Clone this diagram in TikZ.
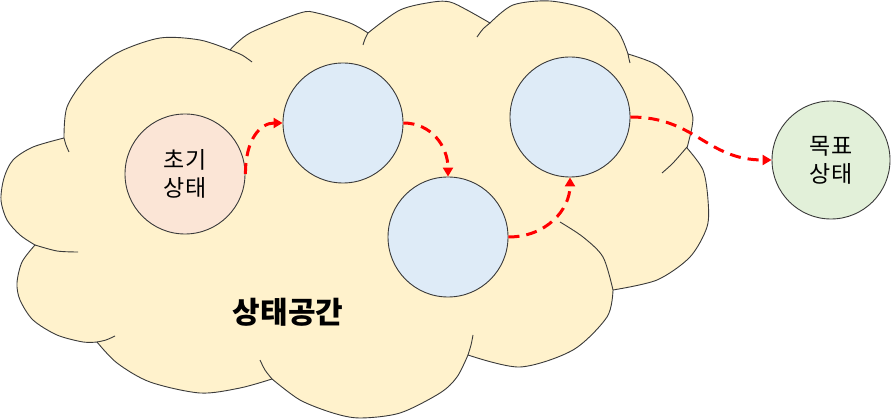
\documentclass[tikz,border=0pt]{standalone}
\usepackage{fontspec}
\usetikzlibrary{arrows.meta}
\newfontfamily\kr{Noto Sans CJK KR}
\definecolor{cloudfill}{HTML}{FFF2CC}
\definecolor{initfill}{HTML}{FBE5D6}
\definecolor{statefill}{HTML}{DEEBF7}
\definecolor{goalfill}{HTML}{E2F0D9}
\definecolor{edge}{HTML}{3A3A3A}

\begin{document}
\begin{tikzpicture}[x=1pt,y=-1pt,
    state/.style={circle,draw=edge,line width=0.9pt,minimum size=120pt,inner sep=0pt,
      align=center,font=\kr\fontsize{23}{28}\selectfont},
    move/.style={red,line width=3pt,dash pattern=on 11pt off 7pt,
      -{Triangle[length=9pt,width=10pt]}},
    stub/.style={draw=edge,line width=0.9pt}]
    \useasboundingbox (0,0) rectangle (893,419);

    % Cloud (state space)
    \filldraw[fill=cloudfill,draw=edge,line width=0.9pt]
      plot[smooth] coordinates {(64,138) (33,147) (13,160) (4,178) (1,200) (7,220) (20,235) (35,245)}
      -- plot[smooth] coordinates {(35,245) (22,262) (17,283) (20,300) (33,320) (57,335) (83,342) (97,342)}
      -- plot[smooth] coordinates {(97,342) (117,363) (150,382) (200,393) (240,388) (272,379)}
      -- plot[smooth] coordinates {(272,379) (300,400) (333,413) (360,418) (400,413) (440,393) (457,377) (468,355)}
      -- plot[smooth] coordinates {(468,355) (520,367) (573,350) (607,317) (613,290)}
      -- plot[smooth] coordinates {(613,290) (657,280) (690,257) (707,227) (708,200) (703,170) (687,148)}
      -- plot[smooth] coordinates {(687,148) (692,127) (692,113) (680,87) (657,65) (628,54)}
      -- plot[smooth] coordinates {(628,54) (617,30) (590,10) (550,1) (513,5) (490,23)}
      -- plot[smooth] coordinates {(490,23) (467,10) (450,2) (433,2) (400,10) (368,33)}
      -- plot[smooth] coordinates {(368,33) (350,23) (317,13) (300,13) (250,33) (230,50)}
      -- plot[smooth] coordinates {(230,50) (200,40) (160,38) (117,53) (87,77) (67,107) (64,138)}
      -- cycle;

    % Inner arcs of the cloud
    \draw[stub] plot[smooth] coordinates {(35,245) (57,251) (78,252)};
    \draw[stub] plot[smooth] coordinates {(97,342) (106,340) (115,336)};
    \draw[stub] plot[smooth] coordinates {(272,379) (265,370) (260,360)};
    \draw[stub] plot[smooth] coordinates {(468,355) (471,345) (473,335)};
    \draw[stub] plot[smooth] coordinates {(613,290) (603,257) (583,237) (560,222)};
    \draw[stub] plot[smooth] coordinates {(687,147) (673,163) (662,173)};
    \draw[stub] plot[smooth] coordinates {(628,54) (629,59) (630,63)};
    \draw[stub] plot[smooth] coordinates {(490,23) (483,29) (477,37)};
    \draw[stub] plot[smooth] coordinates {(368,33) (365,39) (363,45)};
    \draw[stub] plot[smooth] coordinates {(230,50) (242,55) (252,62)};
    \draw[stub] plot[smooth] coordinates {(64,138) (66,145) (69,152)};

    % States
    \node[state,fill=initfill] (init) at (185,174) {초기\\상태};
    \node[state,fill=statefill] (s1) at (343,123) {};
    \node[state,fill=statefill] (s2) at (448,237) {};
    \node[state,fill=statefill] (s3) at (570,117) {};
    \node[state,fill=goalfill,minimum size=118pt] (goal) at (831,160) {목표\\상태};

    \node[font=\kr\bfseries\fontsize{30}{34}\selectfont] (space) at (288,312) {상태공간};

    % Path through the states
    \draw[move] (init.east) .. controls +(0,-35) and +(-22,0) .. (s1.west);
    \draw[move] (s1.east) .. controls +(28,0) and +(0,-30) .. (s2.north);
    \draw[move] (s2.east) .. controls +(38,0) and +(0,32) .. (s3.south);
    \draw[move] (s3.east) .. controls +(65,0) and +(-65,0) .. (goal.west);
\end{tikzpicture}
\end{document}
